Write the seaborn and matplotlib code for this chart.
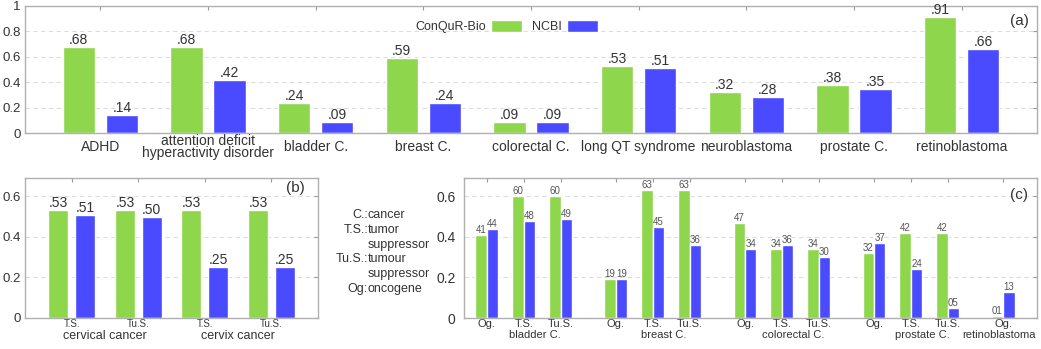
import matplotlib
matplotlib.use("Agg")
import matplotlib.pyplot as plt
import seaborn as sns
import pandas as pd

# panel (a)
diseases_a = ["ADHD", "attention deficit\nhyperactivity disorder", "bladder C.", "breast C.",
              "colorectal C.", "long QT syndrome", "neuroblastoma", "prostate C.", "retinoblastoma"]
conqur_a = [0.68, 0.68, 0.24, 0.59, 0.09, 0.53, 0.32, 0.38, 0.91]
ncbi_a = [0.14, 0.42, 0.09, 0.24, 0.09, 0.51, 0.28, 0.35, 0.66]

# panel (b)
genes_b = ["T.S.", "Tu.S.", "T.S.", "Tu.S."]
groups_b = ["cervical cancer", "cervix cancer"]
conqur_b = [0.53, 0.53, 0.53, 0.53]
ncbi_b = [0.51, 0.50, 0.25, 0.25]

# panel (c)
groups_c = ["bladder C.", "breast C.", "colorectal C.", "prostate C.", "retinoblastoma"]
genes_c = [["Og.", "T.S.", "Tu.S."], ["Og.", "T.S.", "Tu.S."], ["Og.", "T.S.", "Tu.S."],
           ["Og.", "T.S.", "Tu.S."], ["Og."]]
conqur_c = [0.41, 0.60, 0.60, 0.19, 0.63, 0.63, 0.47, 0.34, 0.34, 0.32, 0.42, 0.42, 0.01]
ncbi_c = [0.44, 0.48, 0.49, 0.19, 0.45, 0.36, 0.34, 0.36, 0.30, 0.37, 0.24, 0.05, 0.13]

sources = ["ConQuR-Bio", "NCBI"]
palette = {"ConQuR-Bio": "#8ed64c", "NCBI": "#4a4aff"}

sns.set_style("white")
plt.rcParams["font.family"] = ["Liberation Sans", "DejaVu Sans"]
TXT = "#333333"


def long_df(labels, a, b):
    return pd.DataFrame({"x": list(labels) * 2, "score": list(a) + list(b),
                         "source": [sources[0]] * len(a) + [sources[1]] * len(b)})


def style_axis(ax, ylim, yticks, ysize):
    ax.set_ylim(*ylim)
    ax.set_yticks(yticks)
    ax.set_yticklabels(["0" if t == 0 else ("1" if t == 1 else f"{t:.1f}") for t in yticks],
                       fontsize=ysize, color=TXT)
    ax.yaxis.grid(True, color="#dddddd", linestyle=(0, (4, 3)), linewidth=0.8)
    ax.set_axisbelow(True)
    for s in ax.spines.values():
        s.set_color("#b0b0b0")
        s.set_linewidth(1.0)
    ax.tick_params(axis="y", direction="in", length=3, color="#999999", right=True, pad=3)
    ax.tick_params(axis="x", direction="in", length=3, color="#999999", top=True, bottom=False)
    ax.set_xlabel("")
    ax.set_ylabel("")


W, H = 1041, 349
fig = plt.figure(figsize=(W / 100, H / 100), dpi=100)


def px_axes(left, top, right, bottom):
    return fig.add_axes([left / W, 1 - bottom / H, (right - left) / W, (bottom - top) / H])


# ---- (a)
ax_a = px_axes(25, 6, 1037, 133)
df_a = long_df(diseases_a, conqur_a, ncbi_a)
sns.barplot(data=df_a, x="x", y="score", hue="source", palette=palette, width=0.8, gap=0.25,
            saturation=1, ax=ax_a, legend=True)
style_axis(ax_a, (0, 1), [0, 0.2, 0.4, 0.6, 0.8, 1.0], 9.5)
ax_a.set_xlim(-0.7, len(diseases_a) - 0.3)
ax_a.set_xticks(range(len(diseases_a)))
ax_a.set_xticklabels(diseases_a, fontsize=10, color=TXT, linespacing=0.85)
for t in ax_a.get_xticklabels():
    t.set_verticalalignment("center")
ax_a.tick_params(axis="x", pad=10)
for c in ax_a.containers:
    ax_a.bar_label(c, fmt=lambda v: f".{round(v * 100):02d}", padding=0, fontsize=10, color=TXT)
h, l = ax_a.get_legend_handles_labels()
ax_a.legend(h, l, markerfirst=False, ncol=2, frameon=False, fontsize=9, loc="center",
            bbox_to_anchor=(0.476, 0.84), handlelength=2.5, handleheight=1.1,
            handletextpad=0.4, columnspacing=0.8, labelcolor=TXT)
ax_a.text(0.992, 0.88, "(a)", transform=ax_a.transAxes, ha="right", va="center",
          fontsize=11, color=TXT)

# ---- (b)
ax_b = px_axes(25, 178, 318, 318)
df_b = long_df(range(len(genes_b)), conqur_b, ncbi_b)
sns.barplot(data=df_b, x="x", y="score", hue="source", palette=palette, width=0.8, gap=0.25,
            saturation=1, ax=ax_b, legend=False)
style_axis(ax_b, (0, 0.69), [0, 0.2, 0.4, 0.6], 9.5)
ax_b.set_xlim(-0.7, len(genes_b) - 0.3)
ax_b.set_xticks(range(len(genes_b)))
ax_b.set_xticklabels(genes_b, fontsize=7, color=TXT)
ax_b.tick_params(axis="x", pad=1)
for c in ax_b.containers:
    ax_b.bar_label(c, fmt=lambda v: f".{round(v * 100):02d}", padding=0, fontsize=10, color=TXT)
for i, g in enumerate(groups_b):
    ax_b.text(2 * i + 0.5, -0.13, g, ha="center", va="center", fontsize=9, color=TXT,
              transform=ax_b.get_xaxis_transform())
ax_b.text(0.955, 0.93, "(b)", transform=ax_b.transAxes, ha="right", va="center",
          fontsize=11, color=TXT)

# ---- (c)
pos_c, lab_c, grp_pos = [], [], []
p = 0.0
for gi, genes in enumerate(genes_c):
    start = p
    for g in genes:
        pos_c.append(p)
        lab_c.append(g)
        p += 1
    grp_pos.append((start + p - 1) / 2 + (0.3 if len(genes) > 1 else -0.1))
    p += 0.5

ax_c = px_axes(464, 178, 1037, 318)
df_c = long_df(pos_c, conqur_c, ncbi_c)
sns.barplot(data=df_c, x="x", y="score", hue="source", palette=palette, width=0.62,
            native_scale=True, saturation=1, ax=ax_c, legend=False)
style_axis(ax_c, (0, 0.69), [0, 0.2, 0.4, 0.6], 10)
ax_c.set_xlim(-0.62, pos_c[-1] + 0.92)
ax_c.set_xticks(pos_c)
ax_c.set_xticklabels(lab_c, fontsize=8, color=TXT)
ax_c.tick_params(axis="x", pad=1)
ax_c.tick_params(axis="y", pad=6)
for c in ax_c.containers:
    ax_c.bar_label(c, fmt=lambda v: f"{round(v * 100):02d}", padding=0, fontsize=7,
                   color="#555555")
for x, g in zip(grp_pos, groups_c):
    ax_c.text(x, -0.12, g, ha="center", va="center", fontsize=8, color=TXT,
              transform=ax_c.get_xaxis_transform())
ax_c.text(0.985, 0.88, "(c)", transform=ax_c.transAxes, ha="right", va="center",
          fontsize=11, color=TXT)

# abbreviation key left of (c)
keys = [("C.:", "cancer"), ("T.S.:", "tumor"), ("", "suppressor"),
        ("Tu.S.:", "tumour"), ("", "suppressor"), ("Og:", "oncogene")]
for i, (k, v) in enumerate(keys):
    y = 1 - (215 + i * 14.8) / H
    fig.text(368 / W, y, k, ha="right", va="center", fontsize=9, color=TXT)
    fig.text(368 / W, y, v, ha="left", va="center", fontsize=9, color=TXT)

fig.savefig("out.png", dpi=100)
